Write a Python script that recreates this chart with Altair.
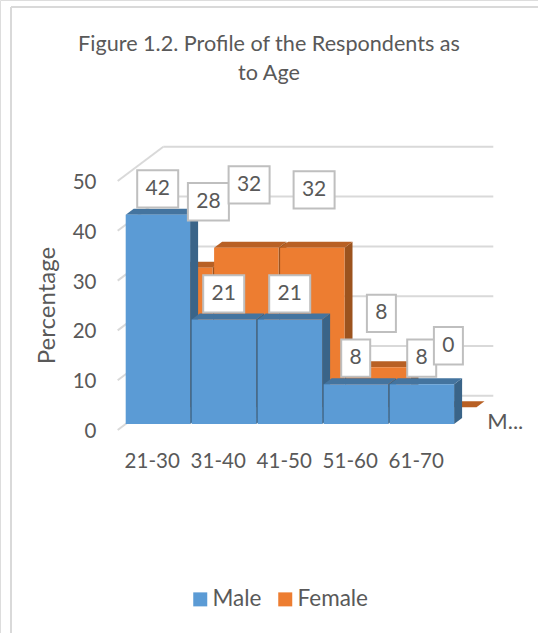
import altair as alt
import pandas as pd

# Survey values, percent of respondents per age bracket
ages = ["21-30", "31-40", "41-50", "51-60", "61-70"]
male = [42, 21, 21, 8, 8]
female = [28, 32, 32, 8, 0]
ticks = [0, 10, 20, 30, 40, 50]
series = ["Male", "Female"]

# Oblique projection used for the 3-D columns
W, H = 538, 633
PX_CAT, PX_PCT = 66.0, 4.98
ORIGIN_X, ORIGIN_Y = 125.7, 424.0
DEPTH_X, DEPTH_Y = 8.0, 6.0
BAR_W = 64.4 / PX_CAT
FEMALE_DEPTH = 2.8
WALL_DEPTH = 4.7
FRONT_DEPTH = -1.0

FONT = "Lato"
TEXT = "#595959"
GRID = "#D9D9D9"
BOX = "#BFBFBF"
FACE = {"Male": "#5B9BD5", "Female": "#ED7D31"}
TOP = {"Male": "#44749F", "Female": "#B86024"}
SIDE = {"Male": "#3A6488", "Female": "#9C531E"}

# Label box offsets in pixels from the column's front-left top corner
male_nudge = [(32, 26), (32, 25.5), (32, 25.5), (32, 26), (32, 26)]
female_nudge = [(60.3, 66), (35, 63), (34, 58), (35.3, 54), (36.3, 61.5)]


def project(cat, pct, depth=0.0):
    return cat + depth * DEPTH_X / PX_CAT, pct + depth * DEPTH_Y / PX_PCT


def bar_faces(name, values, depth):
    side, top, front = [], [], []
    for i, v in enumerate(values):
        key = f"{name}{i}"
        left, right = i, i + BAR_W
        for d in (depth, depth + 1):
            x, y = project(right, v, d)
            _, y0 = project(right, 0, d)
            side.append({"bar": key, "x": x, "y": y, "y2": y0})
        front_l = project(left, v, depth)
        back_l = project(left, v, depth + 1)
        front_r = project(right, v, depth)
        back_r = project(right, v, depth + 1)
        top.append({"bar": key, "x": front_l[0], "y": front_l[1], "y2": front_l[1]})
        top.append({"bar": key, "x": back_l[0], "y": back_l[1], "y2": front_l[1]})
        top.append({"bar": key, "x": front_r[0], "y": back_l[1], "y2": front_r[1]})
        top.append({"bar": key, "x": back_r[0], "y": back_r[1], "y2": back_r[1]})
        _, y0 = project(left, 0, depth)
        front.append({"series": name, "x": front_l[0], "x2": front_r[0], "y": front_l[1], "y2": y0})
    return pd.DataFrame(side), pd.DataFrame(top), pd.DataFrame(front)


x_scale = alt.Scale(domain=[-ORIGIN_X / PX_CAT, (W - ORIGIN_X) / PX_CAT], nice=False, zero=False)
y_scale = alt.Scale(domain=[(ORIGIN_Y - H) / PX_PCT, ORIGIN_Y / PX_PCT], nice=False, zero=False)
color_scale = alt.Scale(domain=series, range=[FACE[s] for s in series])

x_axis = alt.Axis(
    orient="bottom",
    values=[i + 0.5 for i in range(len(ages))],
    labelExpr="{0}[floor(datum.value)]".format(ages),
    offset=-(H - 451),
    labelOffset=-7,
    labelPadding=0,
    ticks=False,
    domain=False,
    grid=False,
    title=None,
    labelFont=FONT,
    labelFontSize=20.5,
    labelColor=TEXT,
    labelBaseline="top",
    labelFlush=False,
    labelOverlap=False,
)
y_axis = alt.Axis(
    orient="left",
    values=ticks,
    offset=-96,
    labelOffset=7.5,
    labelPadding=0,
    ticks=False,
    domain=False,
    grid=False,
    title="Percentage",
    titleFont=FONT,
    titleFontSize=24,
    titleFontWeight="normal",
    titleColor=TEXT,
    titleAngle=270,
    titleX=-37,
    titleY=305,
    labelFont=FONT,
    labelFontSize=20.5,
    labelColor=TEXT,
    labelOverlap=False,
)
X = alt.X("x:Q", scale=x_scale, axis=x_axis)
Y = alt.Y("y:Q", scale=y_scale, axis=y_axis)

# Wall gridlines: back wall plus the receding left wall
grid_rows = []
for t in ticks:
    for cat in (0, 5):
        x, y = project(cat, t, WALL_DEPTH)
        grid_rows.append({"line": f"b{t}", "x": x, "y": y})
    for d in (FRONT_DEPTH, WALL_DEPTH):
        x, y = project(0, t, d)
        grid_rows.append({"line": f"l{t}", "x": x, "y": y})

grid = alt.Chart(pd.DataFrame(grid_rows)).mark_line(color=GRID, strokeWidth=2).encode(
    x=X, y=Y, detail="line:N"
)


def series_layers(name, values, depth):
    side, top, front = bar_faces(name, values, depth)
    return [
        alt.Chart(side).mark_area(color=SIDE[name], opacity=1).encode(x=X, y=Y, y2="y2:Q", detail="bar:N"),
        alt.Chart(top).mark_area(color=TOP[name], opacity=1).encode(x=X, y=Y, y2="y2:Q", detail="bar:N"),
        alt.Chart(front).mark_rect().encode(
            x=X,
            x2="x2:Q",
            y=Y,
            y2="y2:Q",
            color=alt.Color(
                "series:N",
                scale=color_scale,
                legend=alt.Legend(
                    title=None,
                    orient="none",
                    direction="horizontal",
                    legendX=189,
                    legendY=588,
                    symbolType="square",
                    symbolSize=196,
                    symbolStrokeWidth=0,
                    labelFont=FONT,
                    labelFontSize=22.5,
                    labelColor=TEXT,
                    labelOffset=1,
                    columnPadding=12,
                ),
            ),
        ),
    ]


# Data label boxes: width follows the digit count
label_rows = []
for name, values, depth, nudges in (
    ("Male", male, 0.0, male_nudge),
    ("Female", female, FEMALE_DEPTH, female_nudge),
):
    for i, (v, (nx, ny)) in enumerate(zip(values, nudges)):
        cx, cy = project(i, v, depth)
        cx += nx / PX_CAT
        cy += ny / PX_PCT
        half_w = (20.5 if v >= 10 else 14.5) / PX_CAT
        half_h = 18.7 / PX_PCT
        label_rows.append(
            {"cx": cx, "cy": cy, "x": cx - half_w, "x2": cx + half_w,
             "y": cy - half_h, "y2": cy + half_h, "label": str(v)}
        )
labels = pd.DataFrame(label_rows)

boxes = alt.Chart(labels).mark_rect(fill="white", stroke=BOX, strokeWidth=2).encode(
    x=X, x2="x2:Q", y=Y, y2="y2:Q"
)
box_text = alt.Chart(labels).mark_text(font=FONT, fontSize=21, color=TEXT, baseline="middle").encode(
    x=alt.X("cx:Q", scale=x_scale, axis=x_axis),
    y=alt.Y("cy:Q", scale=y_scale, axis=y_axis),
    text="label:N",
)

# Truncated series label at the end of the depth axis
end_x, end_y = project(5, 0, WALL_DEPTH)
depth_label = alt.Chart(pd.DataFrame({"x": [end_x], "y": [end_y], "t": ["M..."]})).mark_text(
    font=FONT, fontSize=22, color=TEXT, dx=12, dy=26, baseline="middle"
).encode(x=X, y=Y, text="t:N")

frame_left = alt.Chart().mark_rule(color=GRID, strokeWidth=2).encode(
    x=alt.value(11), y=alt.value(7), y2=alt.value(H)
)
frame_top = alt.Chart().mark_rule(color=GRID, strokeWidth=2).encode(
    y=alt.value(7), x=alt.value(11), x2=alt.value(W)
)

chart = alt.layer(
    frame_left,
    frame_top,
    grid,
    *series_layers("Female", female, FEMALE_DEPTH),
    *series_layers("Male", male, 0.0),
    boxes,
    box_text,
    depth_label,
).properties(
    width=W,
    height=H,
    padding=0,
    autosize=alt.AutoSizeParams(type="none"),
    title=alt.TitleParams(
        text=["Figure 1.2. Profile of the Respondents as", "to Age"],
        font=FONT,
        fontSize=21.6,
        fontWeight="normal",
        color=TEXT,
        anchor="middle",
        baseline="top",
        offset=-85,
        lineHeight=29,
    ),
).configure_view(stroke=None).configure(background="white")

chart.save("out.html", embed_options={"renderer": "svg", "actions": False})
